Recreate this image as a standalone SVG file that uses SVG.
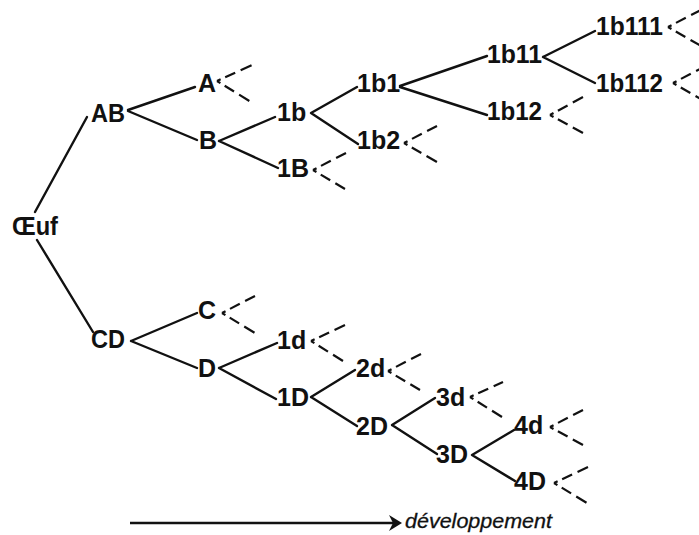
<svg xmlns="http://www.w3.org/2000/svg" width="699" height="535" viewBox="0 0 699 535">
  <style>
    .lbl { font-family: "Liberation Sans", Arial, sans-serif; font-weight: bold; font-size: 25px; fill: #111; }
    .edge { stroke: #111; stroke-width: 2.4; fill: none; stroke-linecap: round; }
    .stub { stroke: #111; stroke-width: 2.2; fill: none; stroke-dasharray: 4 5 11 6 12 6; }
    .axis { stroke: #111; stroke-width: 2.6; fill: none; }
    .axislbl { font-family: "Liberation Sans", Arial, sans-serif; font-style: italic; font-size: 20px; fill: #111; stroke: #111; stroke-width: 0.3; }
  </style>
  <rect width="699" height="535" fill="#fff"/>

  <!-- solid branches between generations -->
  <g id="connectors">
    <path class="edge" d="M35,212 L87,117"/>
    <path class="edge" d="M37,240 L93,332"/>
    <path class="edge" d="M128,110 L195,87 M128,111 L197,140"/>
    <path class="edge" d="M219,141 L275,117 M219,141 L278,168"/>
    <path class="edge" d="M311,113 L357,87 M311,113 L358,144"/>
    <path class="edge" d="M400,86 L487,56 M400,87 L487,115"/>
    <path class="edge" d="M543,57 L595,31 M543,57 L595,83"/>
    <path class="edge" d="M131,341 L197,313 M131,341 L197,368"/>
    <path class="edge" d="M219,368 L277,343 M219,368 L276,399"/>
    <path class="edge" d="M311,397 L355,370 M311,397 L357,426"/>
    <path class="edge" d="M392,425 L435,398 M392,425 L437,454"/>
    <path class="edge" d="M472,455 L514,430 M472,455 L515,481"/>

    <!-- open-ended dashed forks -->
    <path class="stub" d="M217,81 L252,65 M217,81 L251,102"/>
    <path class="stub" d="M313,170 L346,153 M313,170 L345,189"/>
    <path class="stub" d="M404,143 L437,126 M404,143 L437,162"/>
    <path class="stub" d="M550,115 L583,97 M550,115 L583,133"/>
    <path class="stub" d="M668,27 L701,10 M668,27 L701,46"/>
    <path class="stub" d="M673,83 L706,66 M673,83 L706,102"/>
    <path class="stub" d="M222,313 L255,296 M222,313 L255,333"/>
    <path class="stub" d="M311,341 L345,325 M311,341 L343,361"/>
    <path class="stub" d="M388,371 L421,354 M388,371 L420,390"/>
    <path class="stub" d="M470,397 L503,382 M470,397 L502,417"/>
    <path class="stub" d="M550,427 L583,410 M550,427 L583,445"/>
    <path class="stub" d="M554,483 L588,467 M554,483 L587,503"/>
  </g>

  <g id="n-oeuf"><text class="lbl" x="12" y="235" textLength="46" lengthAdjust="spacingAndGlyphs">Œuf</text></g>
  <g id="n-AB"><text class="lbl" x="91" y="122" textLength="34" lengthAdjust="spacingAndGlyphs">AB</text></g>
  <g id="n-A"><text class="lbl" x="198" y="92">A</text></g>
  <g id="n-B"><text class="lbl" x="199" y="149">B</text></g>
  <g id="n-1b"><text class="lbl" x="277" y="121">1b</text></g>
  <g id="n-1B"><text class="lbl" x="277" y="177">1B</text></g>
  <g id="n-1b1"><text class="lbl" x="357" y="92">1b1</text></g>
  <g id="n-1b2"><text class="lbl" x="357" y="149">1b2</text></g>
  <g id="n-1b11"><text class="lbl" x="487" y="63" textLength="55" lengthAdjust="spacingAndGlyphs">1b11</text></g>
  <g id="n-1b12"><text class="lbl" x="487" y="120" textLength="55" lengthAdjust="spacingAndGlyphs">1b12</text></g>
  <g id="n-1b111"><text class="lbl" x="596" y="35" textLength="67" lengthAdjust="spacingAndGlyphs">1b111</text></g>
  <g id="n-1b112"><text class="lbl" x="596" y="92" textLength="67" lengthAdjust="spacingAndGlyphs">1b112</text></g>
  <g id="n-CD"><text class="lbl" x="91" y="348" textLength="34" lengthAdjust="spacingAndGlyphs">CD</text></g>
  <g id="n-C"><text class="lbl" x="198" y="319">C</text></g>
  <g id="n-D"><text class="lbl" x="198" y="377">D</text></g>
  <g id="n-1d"><text class="lbl" x="277" y="349">1d</text></g>
  <g id="n-1D"><text class="lbl" x="277" y="406">1D</text></g>
  <g id="n-2d"><text class="lbl" x="356" y="377">2d</text></g>
  <g id="n-2D"><text class="lbl" x="356" y="435">2D</text></g>
  <g id="n-3d"><text class="lbl" x="436" y="406">3d</text></g>
  <g id="n-3D"><text class="lbl" x="436" y="463">3D</text></g>
  <g id="n-4d"><text class="lbl" x="514" y="434">4d</text></g>
  <g id="n-4D"><text class="lbl" x="514" y="490">4D</text></g>

  <!-- time axis -->
  <g id="axis">
    <line class="axis" x1="130" y1="523" x2="394" y2="523"/>
    <polygon points="389,515 402,523 389,531 393,523" fill="#111"/>
    <text class="axislbl" x="405" y="528" textLength="147" lengthAdjust="spacingAndGlyphs">développement</text>
  </g>
</svg>
